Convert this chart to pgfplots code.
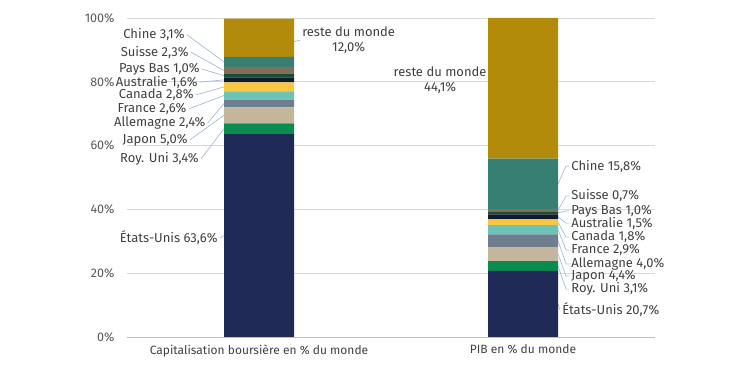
\documentclass[border=0pt]{standalone}
\usepackage{pgfplots}
\pgfplotsset{compat=1.18}
\usepackage{fontspec}
\setmainfont{Fira Sans}
\definecolor{cUS}{HTML}{1F2A56}
\definecolor{cUK}{HTML}{0A8C4E}
\definecolor{cJP}{HTML}{C4B69C}
\definecolor{cDE}{HTML}{6E7E8E}
\definecolor{cFR}{HTML}{6CC4B8}
\definecolor{cCA}{HTML}{F7C744}
\definecolor{cAU}{HTML}{0F1B2C}
\definecolor{cNL}{HTML}{1C4B36}
\definecolor{cCH}{HTML}{7E7158}
\definecolor{cCN}{HTML}{367F72}
\definecolor{cRW}{HTML}{B38B0B}
\definecolor{leadc}{HTML}{A7BAD6}
\definecolor{txt}{HTML}{404040}
\tikzset{lab/.style={font=\fontsize{13}{15}\selectfont, text=txt, inner sep=2pt},
  lw/.style={draw=leadc, line width=0.7pt}}
\begin{document}
\begin{tikzpicture}[x=1pt,y=1pt]
\useasboundingbox (0,0) rectangle (744,371);
\begin{axis}[
  at={(127pt,34pt)}, anchor=south west,
  scale only axis, width=528pt, height=319pt,
  ybar stacked, bar width=70pt,
  xmin=-0.5, xmax=1.5, ymin=0, ymax=100,
  xtick={0,1},
  xticklabels={Capitalisation boursière en \% du monde, PIB en \% du monde},
  ytick={0,20,40,60,80,100},
  yticklabel={\pgfmathprintnumber{\tick}\%},
  /pgf/number format/assume math mode=true,
  ymajorgrids, grid style={draw=black!15, line width=0.8pt},
  axis x line*=bottom, axis y line*=left,
  y axis line style={draw=none},
  x axis line style={draw=black!25, line width=0.8pt, -},
  major tick length=0,
  tick label style={font=\fontsize{12.5}{14}\selectfont, text=black!65},
  yticklabel style={xshift=-9pt},
  xticklabel style={yshift=-4pt, text=txt, font=\fontsize{12}{14}\selectfont},
  clip=false,
]
\addplot[fill=cUS, draw=none] coordinates {(0,63.6) (1,20.7)};
\addplot[fill=cUK, draw=none] coordinates {(0,3.4) (1,3.1)};
\addplot[fill=cJP, draw=none] coordinates {(0,5.0) (1,4.4)};
\addplot[fill=cDE, draw=none] coordinates {(0,2.4) (1,4.0)};
\addplot[fill=cFR, draw=none] coordinates {(0,2.6) (1,2.9)};
\addplot[fill=cCA, draw=none] coordinates {(0,2.8) (1,1.8)};
\addplot[fill=cAU, draw=none] coordinates {(0,1.6) (1,1.5)};
\addplot[fill=cNL, draw=none] coordinates {(0,1.0) (1,1.0)};
\addplot[fill=cCH, draw=none] coordinates {(0,2.3) (1,0.7)};
\addplot[fill=cCN, draw=none] coordinates {(0,3.1) (1,15.8)};
\addplot[fill=cRW, draw=none] coordinates {(0,12.0) (1,44.1)};

% bar 1 labels (left)
\draw[lw] (axis cs:-0.1326,86.25) -- (axis cs:-0.273,94.7) node[lab, anchor=east] {Chine 3,1\%};
\draw[lw] (axis cs:-0.1326,83.55) -- (axis cs:-0.258,89.3) node[lab, anchor=east] {Suisse 2,3\%};
\draw[lw] (axis cs:-0.1326,81.9) -- (axis cs:-0.216,84.0) node[lab, anchor=east] {Pays Bas 1,0\%};
\draw[lw] (axis cs:-0.1326,80.6) -- (axis cs:-0.224,79.9) node[lab, anchor=east] {Australie 1,6\%};
\draw[lw] (axis cs:-0.1326,78.4) -- (axis cs:-0.239,75.9) node[lab, anchor=east] {Canada 2,8\%};
\draw[lw] (axis cs:-0.1326,75.7) -- (axis cs:-0.266,71.5) node[lab, anchor=east] {France 2,6\%};
\draw[lw] (axis cs:-0.1326,73.2) -- (axis cs:-0.194,67.1) node[lab, anchor=east] {Allemagne 2,4\%};
\draw[lw] (axis cs:-0.1326,69.5) -- (axis cs:-0.262,61.8) node[lab, anchor=east] {Japon 5,0\%};
\draw[lw] (axis cs:-0.1326,65.3) -- (axis cs:-0.220,55.8) node[lab, anchor=east] {Roy. Uni 3,4\%};
\draw[lw] (axis cs:-0.1326,31.8) -- (axis cs:-0.148,31.0) node[lab, anchor=east] {États-Unis 63,6\%};
\draw[lw] (axis cs:0.1326,92.6) -- (axis cs:0.155,93.0) node[lab, anchor=west, align=center] {reste du monde\\12,0\%};
% bar 2 labels (right)
\draw[lw] (axis cs:1.1326,48.0) -- (axis cs:1.163,53.6) -- ++(3pt,0pt) node[lab, anchor=west] {Chine 15,8\%};
\draw[lw] (axis cs:1.1326,39.75) -- (axis cs:1.163,44.2) -- ++(3pt,0pt) node[lab, anchor=west] {Suisse 0,7\%};
\draw[lw] (axis cs:1.1326,38.9) -- (axis cs:1.163,39.5) -- ++(3pt,0pt) node[lab, anchor=west] {Pays Bas 1,0\%};
\draw[lw] (axis cs:1.1326,37.65) -- (axis cs:1.163,35.7) -- ++(3pt,0pt) node[lab, anchor=west] {Australie 1,5\%};
\draw[lw] (axis cs:1.1326,36.0) -- (axis cs:1.163,31.3) -- ++(3pt,0pt) node[lab, anchor=west] {Canada 1,8\%};
\draw[lw] (axis cs:1.1326,33.65) -- (axis cs:1.163,27.3) -- ++(3pt,0pt) node[lab, anchor=west] {France 2,9\%};
\draw[lw] (axis cs:1.1326,30.2) -- (axis cs:1.163,22.9) -- ++(3pt,0pt) node[lab, anchor=west] {Allemagne 4,0\%};
\draw[lw] (axis cs:1.1326,26.0) -- (axis cs:1.163,19.1) -- ++(3pt,0pt) node[lab, anchor=west] {Japon 4,4\%};
\draw[lw] (axis cs:1.1326,22.25) -- (axis cs:1.163,15.0) -- ++(3pt,0pt) node[lab, anchor=west] {Roy. Uni 3,1\%};
\draw[lw] (axis cs:1.1326,10.35) -- (axis cs:1.140,8.5) node[lab, anchor=west] {États-Unis 20,7\%};
\node[lab, align=center] at (axis cs:0.686,80.4) {reste du monde\\44,1\%};
\end{axis}
\end{tikzpicture}
\end{document}
